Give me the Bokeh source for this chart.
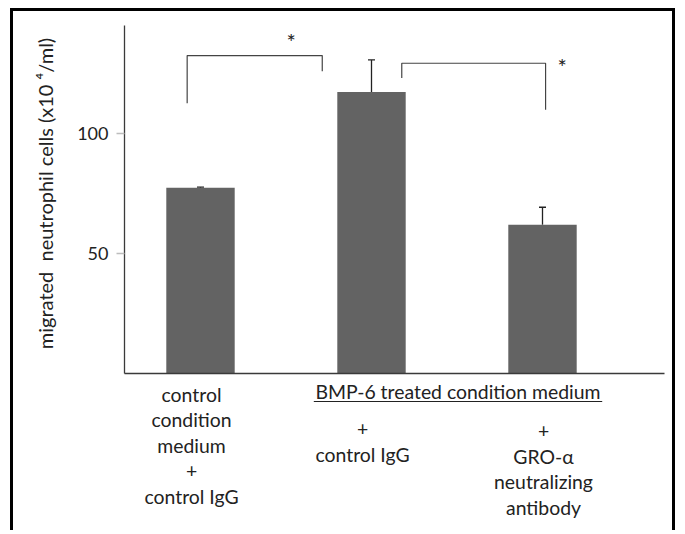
import math
from bokeh.plotting import figure
from bokeh.models import Range1d, FixedTicker, Whisker, TeeHead, ColumnDataSource
from bokeh.embed import file_html
from bokeh.resources import INLINE
from bokeh.core.properties import value

# ---------------- data ----------------
groups = ["control CM + control IgG", "BMP-6 CM + control IgG", "BMP-6 CM + GRO-α Ab"]
means = [77.5, 117.4, 62.1]
upper = [77.8, 130.8, 69.4]
y_ticks = [50, 100]
y_max = 145
y_label = "migrated\u00a0 neutrophil cells (x10 \u2074/ml)"
group_lines = [
    ["control", "condition", "medium", "+", "control IgG"],
    ["+", "control IgG"],
    ["+", "GRO-\u03b1", "neutralizing", "antibody"],
]
header = "BMP-6 treated condition medium"
# significance brackets: x left, x right, y top, y left end, y right end
br_xl = [0.922, 2.177]
br_xr = [1.712, 3.018]
br_top = [132.6, 129.4]
br_lend = [112.7, 123.3]
br_rend = [126.1, 110.0]
star_x = [1.530, 3.115]
star_y = [138.3, 128.0]

# ---------------- layout (pixels) ----------------
FONT = "Lato"
W, H = 665, 522
PX_X = 171.0          # px per category step
PX_Y = 2.4            # px per y unit
X1_PX = 187.0         # canvas x of first bar centre
Y0_PX = 362.3         # canvas y of value 0
AXIS_X_PX = 111.0     # canvas x of the y axis
AXIS_END_PX = 651.0   # canvas x where the x axis ends

xs = list(range(1, len(groups) + 1))
x_start = 1 - X1_PX / PX_X
x_end = x_start + W / PX_X
y_end = Y0_PX / PX_Y
y_start = -(H - Y0_PX) / PX_Y
ax_x = x_start + AXIS_X_PX / PX_X
ax_end = x_start + AXIS_END_PX / PX_X

p = figure(width=W, height=H, x_range=Range1d(x_start, x_end), y_range=Range1d(y_start, y_end),
           output_backend="svg", toolbar_location=None,
           min_border_left=0, min_border_right=0, min_border_top=0, min_border_bottom=0)
p.styles = {"border-top": "3px solid black", "border-left": "3px solid black",
            "border-right": "3px solid black", "margin-left": "10px", "margin-top": "8px"}
p.grid.visible = False
p.outline_line_color = None
p.background_fill_color = "white"
p.border_fill_color = "white"

ya = p.yaxis[0]
ya.fixed_location = ax_x
ya.bounds = (0, y_max)
ya.ticker = FixedTicker(ticks=y_ticks)
ya.major_tick_out = 8
ya.major_tick_in = 0
ya.major_tick_line_color = "#bdbdbd"
ya.major_tick_line_width = 1.5
ya.minor_tick_line_color = None
ya.axis_line_color = "#3a3a3a"
ya.axis_line_width = 1.3
ya.major_label_text_font = FONT
ya.major_label_text_font_size = "18px"
ya.major_label_text_color = "#222222"
ya.major_label_standoff = 8

xa = p.xaxis[0]
xa.fixed_location = 0
xa.bounds = (ax_x, ax_end)
xa.ticker = FixedTicker(ticks=[])
xa.major_tick_line_color = None
xa.minor_tick_line_color = None
xa.major_label_text_font_size = "0px"
xa.axis_line_color = "#3a3a3a"
xa.axis_line_width = 1.3

p.vbar(x=xs, top=means, width=0.4, fill_color="#636363", line_color=None)

src = ColumnDataSource(dict(x=xs, lower=means, upper=upper))
p.add_layout(Whisker(base="x", lower="lower", upper="upper", source=src, dimension="height",
                     line_color="#222222", line_width=1.3,
                     upper_head=TeeHead(size=7, line_color="#222222", line_width=1.3),
                     lower_head=None))

bx = [[a, a, b, b] for a, b in zip(br_xl, br_xr)]
by = [[le, t, t, re] for le, t, re in zip(br_lend, br_top, br_rend)]
p.multi_line(xs=bx, ys=by, line_color="#444444", line_width=1.2)
p.text(x=star_x, y=star_y, text=["*"] * len(star_x), text_align="center",
       text_baseline="middle", text_font=value(FONT),
       text_font_size="22px", text_color="#222222")

# y axis title
p.text(x=[x_start + 31 / PX_X], y=[(Y0_PX - 182) / PX_Y], text=[y_label], angle=math.pi / 2,
       text_align="center", text_baseline="middle", text_font=value(FONT),
       text_font_size="20px", text_color="#222222")

# category labels under the axis
x_offs = [-9, -9, 1]
first_base = [20.7, 55.2, 57.2]
spacing = 25.4
tx, ty, tt, txo, tyo = [], [], [], [], []
for i, lines in enumerate(group_lines):
    for j, t in enumerate(lines):
        tx.append(xs[i]); ty.append(0); tt.append(t)
        txo.append(x_offs[i]); tyo.append(first_base[i] + j * spacing)
tx.append((xs[1] + xs[2]) / 2); ty.append(0); tt.append(header); txo.append(1); tyo.append(18.0)
p.text(x=tx, y=ty, text=tt, x_offset=txo, y_offset=tyo, text_align="center",
       text_baseline="alphabetic", text_font=value(FONT), text_font_size="19.4px",
       text_color="#222222")

# underline of the header
ul_y = -27.7 / PX_Y
p.segment(x0=[1 + 113.3 / PX_X], y0=[ul_y], x1=[1 + 401.7 / PX_X], y1=[ul_y],
          line_color="#222222", line_width=1.1)

open("out.html", "w").write(file_html(p, INLINE))
